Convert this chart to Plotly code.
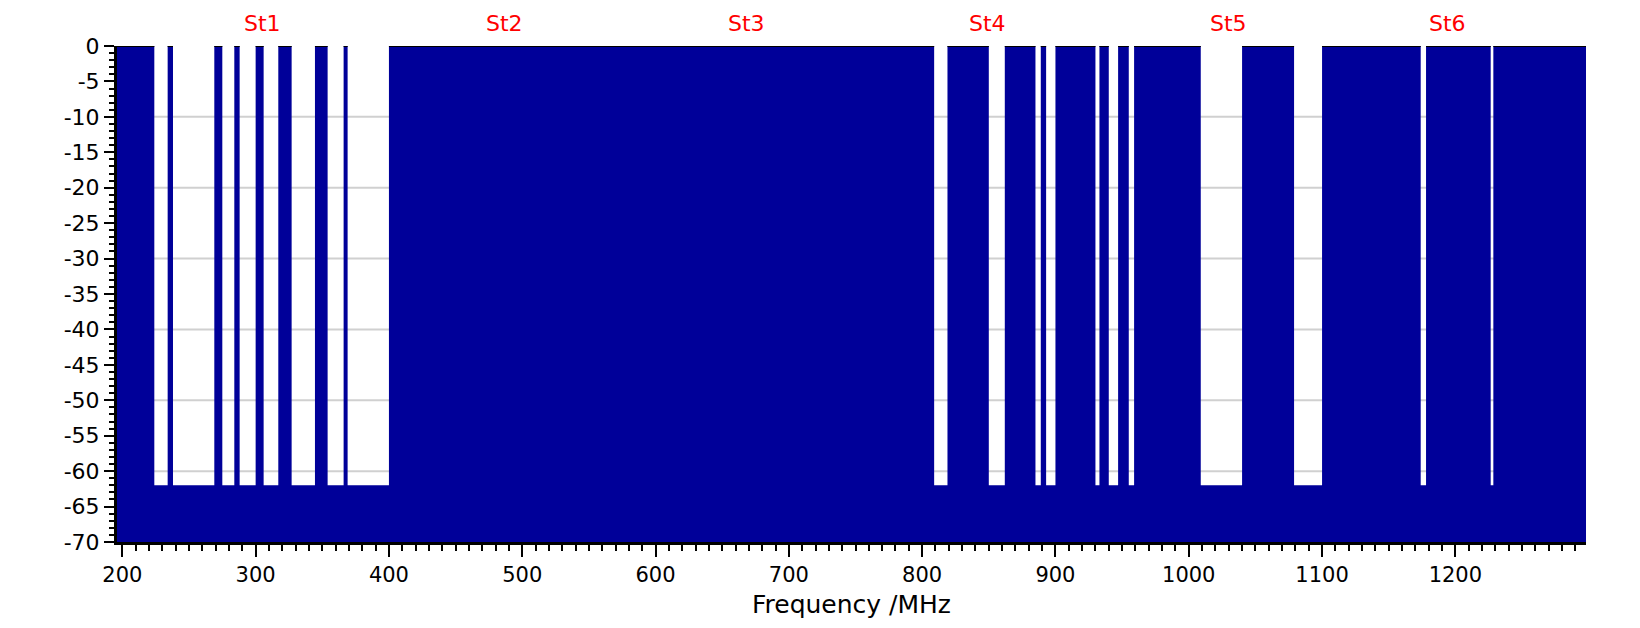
import plotly.graph_objects as go

# ---- data ----
freq_min = 196          # MHz, left end of sweep
freq_max = 1298         # MHz, right end of sweep
level_pass = 0          # dB level outside the notch bands
level_notch = -62       # dB level inside the white notch bands
level_floor = -70       # dB, bottom of the filled area

gap_start = [224, 238, 275, 288, 306, 327, 354, 369,
             809, 850, 885, 893, 930, 940, 955, 1009, 1079, 1174, 1226.5]
gap_end = [234, 269, 284, 300, 317, 344.5, 366, 400,
           819, 862, 889, 900, 933, 947, 959, 1040, 1100, 1178, 1228.5]

station_labels = ["St1", "St2", "St3", "St4", "St5", "St6"]
station_freq = [305, 487, 668, 849, 1030, 1194]

y_tick_vals = [0, -5, -10, -15, -20, -25, -30, -35, -40, -45, -50, -55, -60, -65, -70]
y_tick_text = ["0", "-5", "-10", "-15", "-20", "-25", "-30", "-35", "-40", "-45",
               "-50", "-55", "-60", "-65", "-70"]
y_grid_levels = [-10, -20, -30, -40, -50, -60]
x_tick_vals = [200, 300, 400, 500, 600, 700, 800, 900, 1000, 1100, 1200]

# ---- build step outline ----
xs = [freq_min]
ys = [level_pass]
top_x = [freq_min]
top_y = [level_pass]
for s, e in zip(gap_start, gap_end):
    xs += [s, s, e, e]
    ys += [level_pass, level_notch, level_notch, level_pass]
    top_x += [s, None, e]
    top_y += [level_pass, None, level_pass]
xs += [freq_max, freq_max, freq_min]
ys += [level_pass, level_floor, level_floor]
top_x += [freq_max]
top_y += [level_pass]

fig = go.Figure()
fig.add_trace(go.Scatter(x=xs, y=ys, mode="lines", fill="toself",
                         fillcolor="#000099", line=dict(color="#000099", width=0),
                         hoverinfo="skip", showlegend=False))
fig.add_trace(go.Scatter(x=top_x, y=top_y, mode="lines", connectgaps=False,
                         line=dict(color="#000000", width=2),
                         hoverinfo="skip", showlegend=False))

for g in y_grid_levels:
    fig.add_shape(type="line", xref="paper", x0=0, x1=1, yref="y", y0=g, y1=g,
                  layer="below", line=dict(color="#d0d0d0", width=2))

for lab, f in zip(station_labels, station_freq):
    fig.add_annotation(x=f, xref="x", y=1.046, yref="paper", text=lab,
                       showarrow=False, yanchor="middle", xanchor="center",
                       font=dict(family="DejaVu Sans", size=22, color="#ff0000"))

fig.update_layout(
    width=1640, height=628,
    margin=dict(l=117, r=54, t=46, b=86),
    paper_bgcolor="white", plot_bgcolor="white",
    font=dict(family="DejaVu Sans", size=21, color="#000000"),
    showlegend=False,
)
fig.update_xaxes(
    range=[freq_min, freq_max], tickvals=x_tick_vals,
    showgrid=False, zeroline=False,
    showline=True, linecolor="black", linewidth=3,
    ticks="outside", ticklen=12, tickwidth=2, tickcolor="black",
    minor=dict(dtick=10, tick0=200, ticks="outside", ticklen=6, tickwidth=1.5,
               tickcolor="black", showgrid=False),
    tickfont=dict(family="DejaVu Sans", size=21),
    title=dict(text="Frequency /MHz", font=dict(family="DejaVu Sans", size=25), standoff=10),
)
fig.update_yaxes(
    range=[level_floor, level_pass], tickvals=y_tick_vals, ticktext=y_tick_text,
    showgrid=False, zeroline=False,
    showline=True, linecolor="black", linewidth=3,
    ticks="outside", ticklen=10, tickwidth=2, tickcolor="black",
    minor=dict(dtick=1, tick0=0, ticks="outside", ticklen=5, tickwidth=1.5,
               tickcolor="black", showgrid=False),
    tickfont=dict(family="DejaVu Sans", size=22),
)

fig.write_html("out.html")
